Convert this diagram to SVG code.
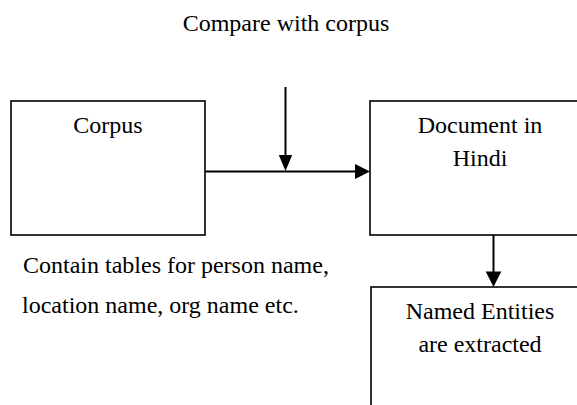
<svg xmlns="http://www.w3.org/2000/svg" width="577" height="405" viewBox="0 0 577 405">
  <style>
    .box { fill: #ffffff; stroke: #000000; stroke-width: 1.6; }
    .edge { fill: none; stroke: #000000; stroke-width: 2; }
    .head { fill: #000000; stroke: none; }
    .mid { text-anchor: middle; }
  </style>
  <rect width="577" height="405" fill="#ffffff"/>

  <g font-family="'Liberation Serif', 'Times New Roman', Times, serif" font-size="24" fill="#000000">
    <!-- free-standing labels -->
    <text id="label-compare" class="mid" x="286" y="31">Compare with corpus</text>
    <g id="label-tables">
      <text x="23" y="273">Contain tables for person name,</text>
      <text x="22" y="313">location name, org name etc.</text>
    </g>

    <!-- nodes -->
    <g id="corpus">
      <rect class="box" x="11" y="101" width="194" height="134"/>
      <text class="mid" x="108" y="133">Corpus</text>
    </g>
    <g id="document">
      <rect class="box" x="370" y="101" width="220" height="134"/>
      <text class="mid" x="480" y="133">Document in</text>
      <text class="mid" x="480" y="166">Hindi</text>
    </g>
    <g id="entities">
      <rect class="box" x="371" y="287" width="220" height="140"/>
      <text class="mid" x="480" y="319">Named Entities</text>
      <text class="mid" x="480" y="352">are extracted</text>
    </g>
  </g>

  <!-- connectors -->
  <g id="connectors">
    <line class="edge" x1="205" y1="171.5" x2="356" y2="171.5"/>
    <polygon class="head" points="355,164 370,171.5 355,179"/>
    <line class="edge" x1="285.5" y1="87" x2="285.5" y2="156"/>
    <polygon class="head" points="278.8,155 292.2,155 285.5,171"/>
    <line class="edge" x1="493.5" y1="235" x2="493.5" y2="273"/>
    <polygon class="head" points="485.7,271.5 501.3,271.5 493.5,287"/>
  </g>
</svg>
